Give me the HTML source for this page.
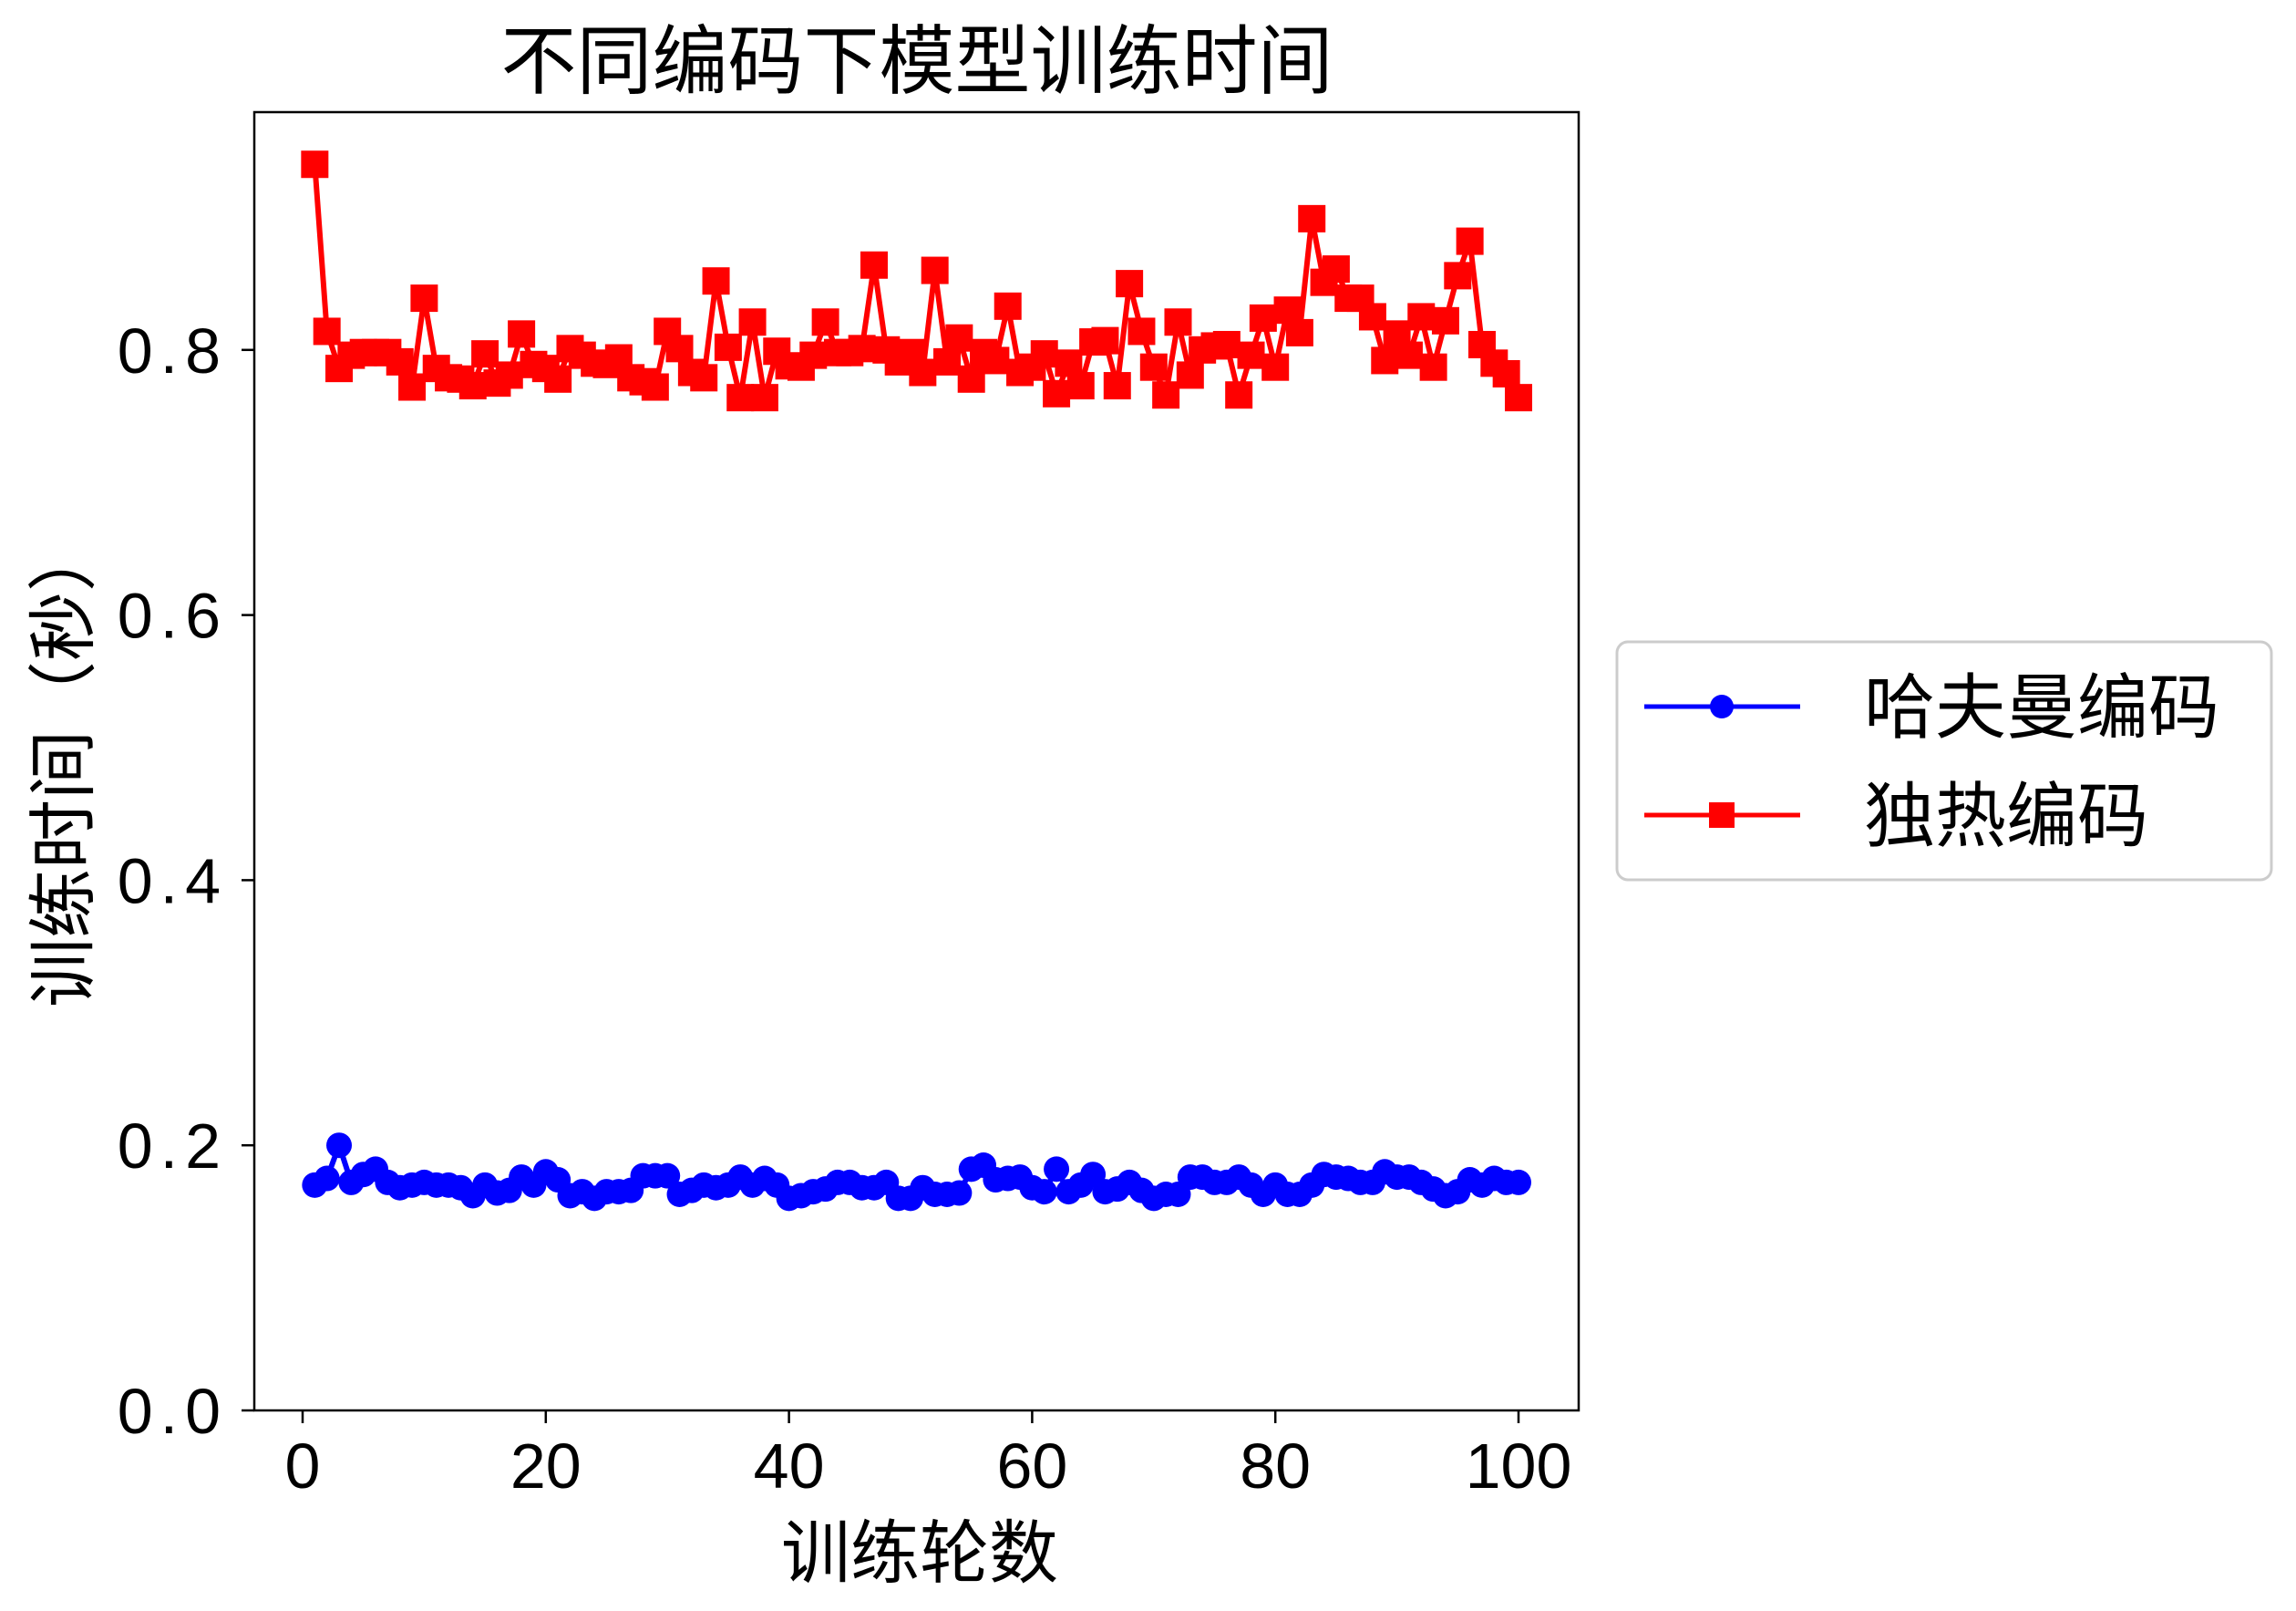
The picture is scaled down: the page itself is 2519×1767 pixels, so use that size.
<!DOCTYPE html>
<html><head><meta charset="utf-8">
<style>
html,body{margin:0;padding:0;background:#fff;}
svg{display:block;font-family:"Liberation Sans","Noto Sans CJK SC",sans-serif;}
</style></head>
<body>
<svg id="chart" width="2519" height="1767" viewBox="0 0 2519 1767" xmlns="http://www.w3.org/2000/svg">
<rect width="2519" height="1767" fill="#fff"/>
<text x="1006" y="96" font-size="83" text-anchor="middle" font-family="Noto Sans CJK SC, sans-serif">不同编码下模型训练时间</text>
<g id="plot"></g>
<rect x="279" y="123" width="1453" height="1424" fill="none" stroke="#000" stroke-width="2.5"/>
<g id="xticks"></g>
<g id="yticks"></g>
<text x="1009" y="1730" font-size="76" text-anchor="middle" font-family="Noto Sans CJK SC, sans-serif">训练轮数</text>
<text x="0" y="0" font-size="76" text-anchor="middle" font-family="Noto Sans CJK SC, sans-serif" transform="translate(96,839) rotate(-90)">训练时间（秒）</text>
<g transform="translate(-8,-3)">
<rect x="1782" y="707" width="718" height="261" rx="12" fill="#fff" stroke="#ccc" stroke-width="3"/>
<g>
<line x1="1812" y1="778" x2="1983" y2="778" stroke="#0000ff" stroke-width="5"/>
<circle cx="1897" cy="778" r="13" fill="#0000ff"/>
<text x="2053" y="806" font-size="78" font-family="Noto Sans CJK SC, sans-serif">哈夫曼编码</text>
</g>
<g>
<line x1="1812" y1="897" x2="1983" y2="897" stroke="#ff0000" stroke-width="5"/>
<rect x="1883" y="883" width="28" height="28" fill="#ff0000"/>
<text x="2053" y="925" font-size="78" font-family="Noto Sans CJK SC, sans-serif">独热编码</text>
</g>
</g>
</svg>
<script>
const epochs = Array.from({length:100},(_,i)=>i+1);
const onehotTimes = [0.940,0.814,0.786,0.796,0.798,0.798,0.798,0.791,0.772,0.839,0.786,0.779,0.778,0.773,0.797,0.775,0.781,0.812,0.789,0.786,0.778,0.801,0.796,0.790,0.789,0.794,0.779,0.776,0.772,0.814,0.801,0.783,0.779,0.852,0.802,0.764,0.821,0.764,0.799,0.788,0.787,0.796,0.821,0.798,0.798,0.801,0.864,0.800,0.791,0.798,0.783,0.860,0.791,0.809,0.778,0.798,0.792,0.833,0.783,0.787,0.797,0.767,0.790,0.773,0.806,0.807,0.773,0.850,0.814,0.787,0.766,0.821,0.781,0.800,0.803,0.804,0.766,0.796,0.824,0.787,0.830,0.813,0.899,0.851,0.861,0.839,0.839,0.825,0.792,0.812,0.796,0.825,0.787,0.822,0.856,0.882,0.804,0.790,0.782,0.764];
const huffmanTimes = [0.170,0.175,0.200,0.172,0.178,0.182,0.172,0.168,0.170,0.172,0.170,0.170,0.168,0.162,0.170,0.164,0.166,0.176,0.170,0.180,0.174,0.162,0.165,0.160,0.165,0.165,0.166,0.177,0.177,0.177,0.163,0.166,0.170,0.168,0.170,0.176,0.170,0.175,0.170,0.160,0.162,0.165,0.167,0.172,0.172,0.168,0.168,0.172,0.160,0.160,0.168,0.163,0.163,0.164,0.182,0.185,0.174,0.175,0.176,0.168,0.165,0.182,0.165,0.170,0.178,0.165,0.167,0.172,0.166,0.160,0.163,0.163,0.176,0.176,0.172,0.172,0.176,0.170,0.163,0.170,0.163,0.163,0.170,0.178,0.176,0.175,0.172,0.172,0.180,0.176,0.176,0.172,0.167,0.162,0.165,0.174,0.170,0.175,0.172,0.172];
const xTickLabels = ["0","20","40","60","80","100"];
const yTickLabels = ["0.0","0.2","0.4","0.6","0.8"];

const NS="http://www.w3.org/2000/svg";
const X0=332, X1=1666, Y0=1547, YPER=1454;
function xs(v){return X0+(X1-X0)*v/100;}
function ys(v){return Y0-YPER*v;}
function mk(tag,attrs,parent){const e=document.createElementNS(NS,tag);for(const k in attrs)e.setAttribute(k,attrs[k]);parent.appendChild(e);return e;}

const plot=document.getElementById('plot');
const rp=mk('polyline',{points:epochs.map((x,i)=>xs(x)+','+ys(onehotTimes[i])).join(' '),fill:'none',stroke:'#ff0000','stroke-width':6,'stroke-linejoin':'round'},plot);


epochs.forEach((x,i)=>{
  const r=mk('rect',{x:xs(x)-15,y:ys(onehotTimes[i])-15,width:30,height:30,fill:'#ff0000'},plot);
  
  
});
const bp=mk('polyline',{points:epochs.map((x,i)=>xs(x)+','+ys(huffmanTimes[i])).join(' '),fill:'none',stroke:'#0000ff','stroke-width':6,'stroke-linejoin':'round'},plot);


epochs.forEach((x,i)=>{
  const c=mk('circle',{cx:xs(x),cy:ys(huffmanTimes[i]),r:14,fill:'#0000ff'},plot);
  
  
});
const xg=document.getElementById('xticks');
xTickLabels.forEach(l=>{
  const v=parseFloat(l);
  const t=mk('line',{x1:xs(v),x2:xs(v),y1:1547,y2:1561,stroke:'#000','stroke-width':2.5},xg);
  
  
  const tx=mk('text',{x:xs(v),y:1632,'font-size':70,'text-anchor':'middle'},xg);
  tx.textContent=l;
  
  
});
const yg=document.getElementById('yticks');
yTickLabels.forEach(l=>{
  const v=parseFloat(l);
  const t=mk('line',{x1:265,x2:279,y1:ys(v),y2:ys(v),stroke:'#000','stroke-width':2.5},yg);
  
  
  const tx=mk('text',{x:250,y:ys(v)+25,'font-size':70,'text-anchor':'end','letter-spacing':'8'},yg);
  tx.textContent=l;
  
  
});
</script>
</body></html>
